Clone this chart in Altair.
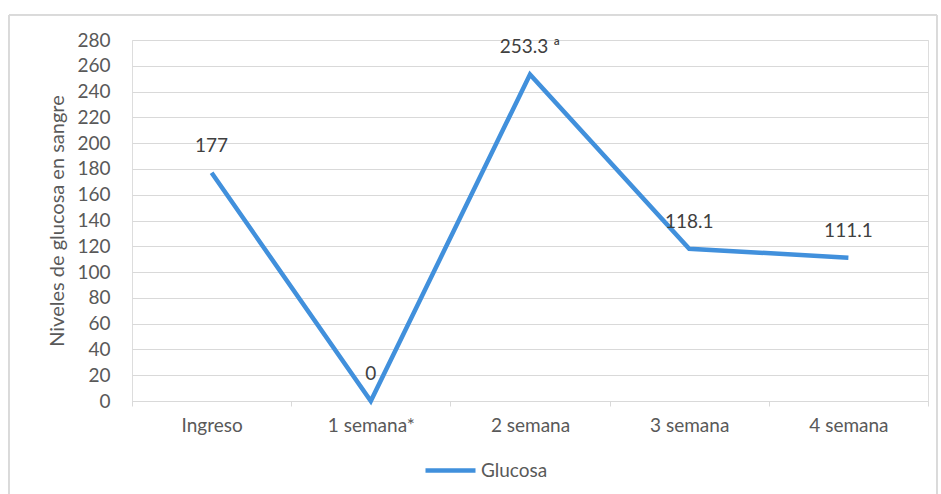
import altair as alt
import pandas as pd

categories = ["Ingreso", "1 semana*", "2 semana", "3 semana", "4 semana"]
values = [177, 0, 253.3, 118.1, 111.1]
labels = ["177", "0", "253.3 ª", "118.1", "111.1"]
series_name = "Glucosa"
y_ticks = list(range(0, 281, 20))

df = pd.DataFrame({
    "cat": categories,
    "val": values,
    "lab": labels,
    "series": [series_name] * len(categories),
})

FONT = "Lato"
GRAY = "#595959"
LINE = "#4190dc"

x_enc = alt.X(
    "cat:N",
    sort=categories,
    bandPosition=0.5,
    scale=alt.Scale(type="band", paddingInner=0, paddingOuter=0),
    axis=alt.Axis(
        title=None, labelAngle=0, labelFontSize=19, labelColor=GRAY, labelFont=FONT,
        domainColor="#d9d9d9", tickColor="#d9d9d9", tickSize=5, tickBand="extent",
        labelPadding=10, grid=False, labelOverlap=False,
    ),
)
y_enc = alt.Y(
    "val:Q",
    scale=alt.Scale(domain=[0, 280], nice=False),
    axis=alt.Axis(
        title="Niveles de glucosa en sangre", titleFontSize=20, titleColor=GRAY,
        titleFont=FONT, titleFontWeight="normal", titlePadding=9,
        values=y_ticks, labelFontSize=19, labelColor=GRAY, labelFont=FONT,
        labelPadding=22, domain=False, ticks=False, grid=True, gridColor="#d9d9d9",
        labelOverlap=False,
    ),
)

border = alt.Chart(df).mark_rect(fill=None, stroke="#d9d9d9", strokeWidth=1, clip=False).encode(
    x=alt.value(-123), x2=alt.value(805), y=alt.value(-25), y2=alt.value(480)
)

line = alt.Chart(df).mark_line(strokeWidth=4.5).encode(
    x=x_enc,
    y=y_enc,
    color=alt.Color(
        "series:N",
        scale=alt.Scale(range=[LINE]),
        legend=alt.Legend(
            title=None, orient="none", legendX=291, legendY=403,
            symbolType="stroke", symbolSize=2500, symbolStrokeWidth=4.5,
            labelFontSize=19, labelColor=GRAY, labelFont=FONT, labelOffset=3, padding=0,
        ),
    ),
)

text = alt.Chart(df).mark_text(dy=-27, fontSize=19, color="#404040", font=FONT).encode(
    x=x_enc,
    y=y_enc,
    text="lab:N",
)

chart = alt.layer(border, line, text).properties(
    width=796, height=361,
    autosize=alt.AutoSizeParams(type="none"),
    padding={"left": 132, "top": 40, "right": 13, "bottom": 93},
).configure_view(stroke=None).configure(background="white")

chart.save("out.html", embed_options={"renderer": "svg", "actions": False})
